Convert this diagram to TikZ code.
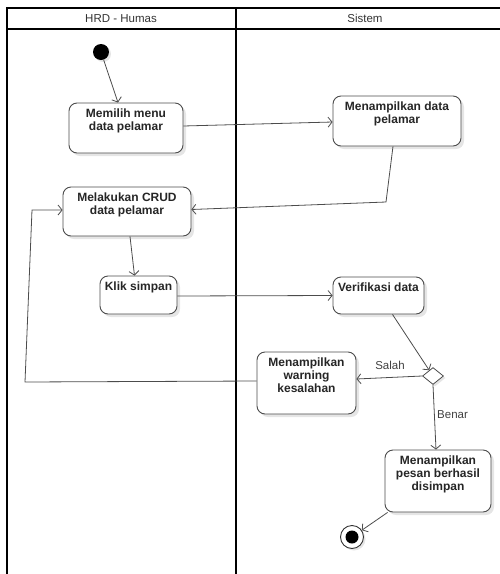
\documentclass[tikz,border=0pt]{standalone}
\usepackage{fontspec}
\setmainfont{Liberation Sans}
\usetikzlibrary{arrows.meta,shapes.geometric,shadows}
\begin{document}
\begin{tikzpicture}[x=1pt,y=-1pt,
  lane/.style={line width=1.4pt, draw=black},
  lanetitle/.style={inner sep=0pt, font=\fontsize{11.5}{13}\selectfont, text=black!80},
  act/.style={draw=black!70, line width=0.9pt, rounded corners=8pt, fill=white,
    general shadow={fill=black!10, shadow xshift=3pt, shadow yshift=-3pt}},
  acttext/.style={anchor=north, inner sep=0pt, yshift=-6.5pt, align=center,
    font=\bfseries\fontsize{12}{12.8}\selectfont, text=black!85},
  flow/.style={draw=black!70, line width=0.8pt, -{Straight Barb[length=4pt,width=10pt]}},
  guard/.style={inner sep=0pt, font=\fontsize{11.5}{13}\selectfont, text=black!75},
  softshadow/.style={general shadow={fill=black!10, shadow xshift=2pt, shadow yshift=-2pt}}
]
\useasboundingbox (0,0) rectangle (500,574);
\clip (0,0) rectangle (500,574);

% swimlane frame
\draw[lane] (7,585) -- (7,8) -- (510,8);
\draw[lane] (7,29) -- (510,29);
\draw[lane] (236,8) -- (236,585);
\node[lanetitle] (laneA) at (121,18.5) {HRD - Humas};
\node[lanetitle] (laneB) at (365,18.5) {Sistem};

% start / end
\node[circle, fill=black, minimum size=16pt, inner sep=0pt, softshadow] (start) at (101,52) {};
\node[circle, draw=black!80, line width=0.9pt, fill=white, minimum size=23pt, inner sep=0pt, softshadow] (stop) at (352,537) {};
\node[circle, fill=black, minimum size=13pt, inner sep=0pt] (stopdot) at (stop) {};

% activities
\node[act, minimum width=114pt, minimum height=50pt] (memilih) at (126,128) {};
\node[acttext] (memilihT) at (memilih.north) {Memilih menu\\data pelamar};

\node[act, minimum width=128pt, minimum height=50pt] (tampil) at (397,121) {};
\node[acttext] (tampilT) at (tampil.north) {Menampilkan data\\pelamar};

\node[act, minimum width=128pt, minimum height=49pt] (crud) at (127,211.5) {};
\node[acttext] (crudT) at (crud.north) {Melakukan CRUD\\data pelamar};

\node[act, minimum width=77pt, minimum height=38pt] (klik) at (138.5,295) {};
\node[acttext] (klikT) at (klik.north) {Klik simpan};

\node[act, minimum width=91pt, minimum height=37pt] (verif) at (378.5,295.5) {};
\node[acttext] (verifT) at (verif.north) {Verifikasi data};

\node[act, minimum width=99pt, minimum height=62pt] (warn) at (306.5,383) {};
\node[acttext] (warnT) at (warn.north) {Menampilkan\\warning\\kesalahan};

\node[act, minimum width=106pt, minimum height=62pt] (pesan) at (438,481) {};
\node[acttext] (pesanT) at (pesan.north) {Menampilkan\\pesan berhasil\\disimpan};

% decision
\node[diamond, draw=black!70, line width=0.8pt, fill=white, minimum width=21pt, minimum height=17pt,
  inner sep=0pt, softshadow] (dec) at (433,376) {};

% bend points
\coordinate (b1) at (386,202);
\coordinate (b2) at (25,382);
\coordinate (b3) at (32,210);

% flows
\draw[flow] (start) -- ([xshift=-8pt]memilih.north);
\draw[flow] ([yshift=2pt]memilih.east) -- ([yshift=-1pt]tampil.west);
\draw[flow] ([xshift=-4pt]tampil.south) -- (b1) -- ([yshift=2pt]crud.east);
\draw[flow] ([xshift=3pt]crud.south) -- ([xshift=-4pt]klik.north);
\draw[flow] ([yshift=-1pt]klik.east) -- (verif.west);
\draw[flow] ([xshift=14pt]verif.south) -- (dec);
\draw[flow] (dec.west) -- ([yshift=4pt]warn.east);
\node[guard] (salah) at (390,365) {Salah};
\draw[flow] ([yshift=2pt]warn.west) -- (b2) -- (b3) -- ([yshift=1.5pt]crud.west);
\draw[flow] (dec.south) -- ([xshift=-2pt]pesan.north);
\node[guard, anchor=west] (benar) at (437,415) {Benar};
\draw[flow] ([xshift=3pt]pesan.south west) -- (stop);
\end{tikzpicture}
\end{document}
